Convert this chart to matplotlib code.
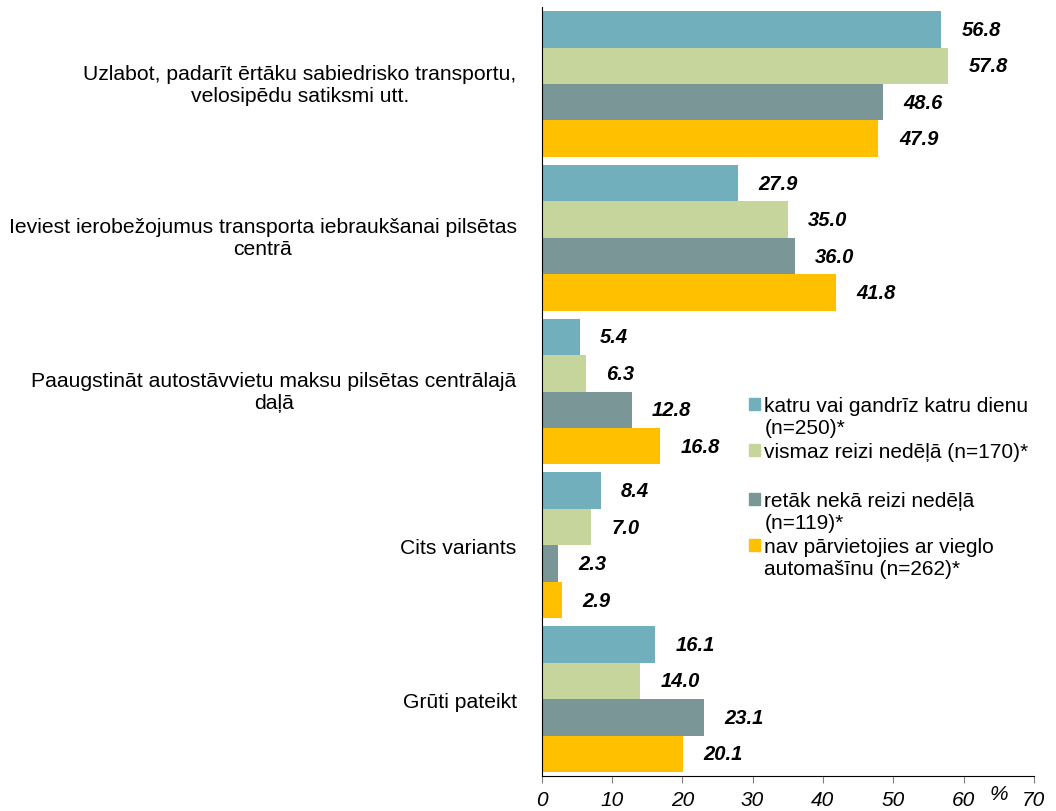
import numpy as np
import matplotlib.pyplot as plt
from matplotlib.patches import Patch, Rectangle
from matplotlib.legend_handler import HandlerPatch

plt.rcParams['font.family'] = ['Liberation Sans', 'DejaVu Sans']

categories = [
    "Uzlabot, padarīt ērtāku sabiedrisko transportu,\nvelosipēdu satiksmi utt.",
    "Ieviest ierobežojumus transporta iebraukšanai pilsētas\ncentrā",
    "Paaugstināt autostāvvietu maksu pilsētas centrālajā\ndaļā",
    "Cits variants",
    "Grūti pateikt",
]
series_names = [
    "katru vai gandrīz katru dienu\n(n=250)*",
    "vismaz reizi nedēļā (n=170)*",
    "retāk nekā reizi nedēļā\n(n=119)*",
    "nav pārvietojies ar vieglo\nautomašīnu (n=262)*",
]
daily = [56.8, 27.9, 5.4, 8.4, 16.1]
weekly = [57.8, 35.0, 6.3, 7.0, 14.0]
rarely = [48.6, 36.0, 12.8, 2.3, 23.1]
no_car = [47.9, 41.8, 16.8, 2.9, 20.1]
colors = ["#72AFBD", "#C6D59B", "#7B9696", "#FFC000"]

fig = plt.figure(figsize=(10.56, 8.12), dpi=100)
ax = fig.add_axes([0.513, 0.043, 0.466, 0.947])

y = np.arange(len(categories))
h = 0.237
handles = []
for i, (vals, col) in enumerate(zip([daily, weekly, rarely, no_car], colors)):
    pos = y - 1.5 * h + i * h
    ax.barh(pos, vals, height=h, color=col)
    for p, v in zip(pos, vals):
        ax.text(v + 2.9, p, f"{v:.1f}", va='center', ha='left',
                fontsize=14.5, fontweight='bold', fontstyle='italic')
    handles.append(Patch(color=col))

ax.set_ylim(len(categories) - 0.5, -0.5)
ax.set_xlim(0, 70)
ax.set_xticks(range(0, 71, 10))
ax.set_xticklabels([str(t) for t in range(0, 71, 10)], fontsize=15, fontstyle='italic')
ax.set_yticks(y)
ax.set_yticklabels(categories, fontsize=15.2, multialignment='center', linespacing=1.2)
for lbl in ax.get_yticklabels():
    if "\n" in lbl.get_text():
        lbl.set_verticalalignment('center')
ax.tick_params(axis='y', length=0, pad=18)
ax.tick_params(axis='x', length=5, color='#808080', pad=5)
ax.spines['top'].set_visible(False)
ax.spines['right'].set_visible(False)
ax.text(0.929, -0.022, "%", transform=ax.transAxes, fontsize=15, fontstyle='italic',
        ha='center', va='center')


# put the marker next to the first line of a wrapped legend entry
def top_marker(legend, orig_handle, xdescent, ydescent, width, height, fontsize):
    return Rectangle((-xdescent, -ydescent + 0.6 * fontsize), width, height)


up = HandlerPatch(patch_func=top_marker)
blank = Patch(color='none')
leg = ax.legend(handles[:2] + [blank] + handles[2:],
                series_names[:2] + [""] + series_names[2:],
                loc='upper left', bbox_to_anchor=(0.404, 0.505), frameon=False,
                fontsize=15, handlelength=0.55, handleheight=0.55, handletextpad=0.2,
                labelspacing=0.25, borderaxespad=0,
                handler_map={handles[0]: up, handles[2]: up, handles[3]: up})
for t in leg.get_texts():
    t.set_linespacing(1.2)

fig.savefig("out.png", dpi=100)
